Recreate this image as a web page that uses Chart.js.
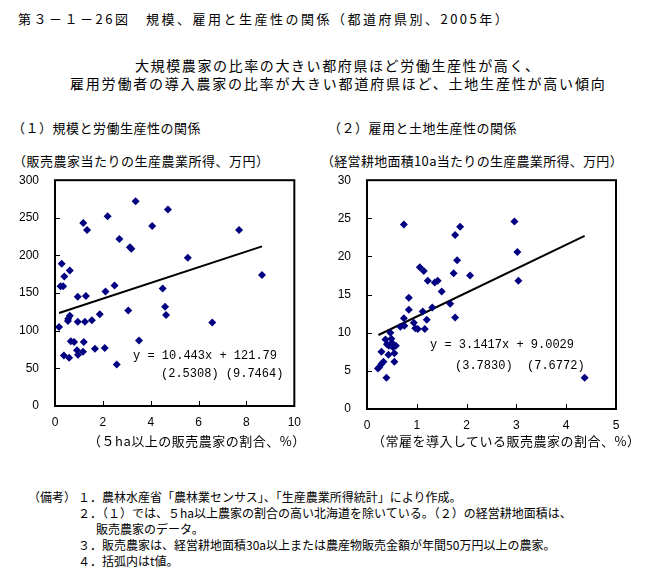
<!DOCTYPE html>
<html lang="ja">
<head>
<meta charset="utf-8">
<script src="https://cdn.jsdelivr.net/npm/chart.js@4"></script>
<style>
  body { margin: 0; background: #fff; }
  #page { position: relative; width: 659px; height: 573px; overflow: hidden; font-family: "Noto Sans CJK JP", sans-serif; color: #000; }
  .t { position: absolute; white-space: nowrap; line-height: 16px; }
  .eq { position: absolute; white-space: pre; line-height: 16px; font-family: "Liberation Mono", monospace; font-size: 12px; }
  canvas { position: absolute; }
</style>
</head>
<body>
<div id="page">
  <div class="t" style="left:18px;top:11px;font-size:13px;letter-spacing:2.5px;">第３－１－26図　規模、雇用と生産性の関係（都道府県別、2005年）</div>
  <div class="t" style="left:135px;top:57px;font-size:14px;letter-spacing:1.6px;">大規模農家の比率の大きい都府県ほど労働生産性が高く、</div>
  <div class="t" style="left:70px;top:75px;font-size:14px;letter-spacing:1.8px;">雇用労働者の導入農家の比率が大きい都道府県ほど、土地生産性が高い傾向</div>

  <div class="t" style="left:12px;top:120px;font-size:13px;letter-spacing:0.5px;">（１）規模と労働生産性の関係</div>
  <div class="t" style="left:328px;top:120px;font-size:13px;letter-spacing:0.5px;">（２）雇用と土地生産性の関係</div>
  <div class="t" style="left:13px;top:153px;font-size:13px;letter-spacing:0.5px;">（販売農家当たりの生産農業所得、万円）</div>
  <div class="t" style="left:321px;top:153px;font-size:13px;letter-spacing:0.3px;">（経営耕地面積10a当たりの生産農業所得、万円）</div>

  <canvas id="chart-left" width="310" height="278" style="left:0;top:157px;"></canvas>
  <canvas id="chart-right" width="320" height="278" style="left:320px;top:157px;"></canvas>

  <div class="eq" style="left:133px;top:348px;">y = 10.443x + 121.79</div>
  <div class="eq" style="left:161px;top:366px;">(2.5308) (9.7464)</div>
  <div class="eq" style="left:430px;top:337px;">y = 3.1417x + 9.0029</div>
  <div class="eq" style="left:455px;top:358px;">(3.7830)  (7.6772)</div>

  <div class="t" style="left:88px;top:433px;font-size:13px;letter-spacing:0.5px;">（５ha以上の販売農家の割合、%）</div>
  <div class="t" style="left:372px;top:433px;font-size:13px;letter-spacing:0.5px;">（常雇を導入している販売農家の割合、%）</div>

  <div class="t" style="left:28px;top:489px;font-size:12px;">（備考）</div>
  <div class="t" style="left:78px;top:489px;font-size:12px;">１．農林水産省「農林業センサス」、「生産農業所得統計」により作成。</div>
  <div class="t" style="left:78px;top:505px;font-size:12px;">２．（１）では、５ha以上農家の割合の高い北海道を除いている。（２）の経営耕地面積は、</div>
  <div class="t" style="left:96px;top:521px;font-size:12px;">販売農家のデータ。</div>
  <div class="t" style="left:78px;top:537px;font-size:12px;">３．販売農家は、経営耕地面積30a以上または農産物販売金額が年間50万円以上の農家。</div>
  <div class="t" style="left:78px;top:553px;font-size:12px;">４．括弧内はt値。</div>
</div>

<script>
// (1) share of farms >= 5ha (%) vs income per farm (10k yen)
const scaleShare = [3.37, 4.72, 2.20, 1.18, 1.34, 4.06, 7.69, 2.69, 3.13, 3.19, 5.55, 0.28, 0.62, 0.39, 8.65, 0.23,
  0.34, 2.49, 4.50, 2.11, 0.95, 1.29, 3.06, 4.60, 4.64, 1.87, 0.62, 0.55, 0.54, 1.54, 0.95, 1.25, 0.17, 6.57,
  0.66, 0.80, 1.20, 3.51, 1.67, 2.08, 0.92, 1.17, 0.96, 0.37, 0.59, 2.58];
const laborIncome = [272, 261, 252, 243, 234, 239, 234, 222, 211, 209, 197, 189, 180, 172, 174, 159,
  159, 160, 156, 152, 145, 146, 127, 132, 121, 122, 120, 116, 113, 114, 112, 112, 105, 111,
  86, 85, 85, 87, 76, 77, 74, 72, 68, 67, 64, 55];
const trendLeftX = [0.17, 8.65];
const trendLeftY = [123.6, 212.1];
const leftXTicks = [0, 2, 4, 6, 8, 10];
const leftYTicks = [0, 50, 100, 150, 200, 250, 300];

// (2) share of farms with regular employees (%) vs income per 10a (10k yen)
const hireShare = [0.74, 2.96, 1.87, 1.77, 3.02, 1.81, 1.06, 1.14, 1.74, 2.07, 1.22, 1.36, 1.42, 3.04, 1.50, 0.84,
  1.67, 1.31, 0.84, 1.12, 0.74, 1.77, 1.20, 0.94, 0.67, 0.75, 0.97, 1.02, 1.16, 0.47, 0.37, 0.49,
  0.40, 0.44, 0.58, 0.52, 0.29, 0.43, 0.55, 0.55, 0.33, 0.29, 0.25, 0.22, 0.39, 4.37, 0.50];
const landIncome = [24.2, 24.6, 23.9, 22.8, 20.6, 19.5, 18.6, 18.1, 17.8, 17.5, 16.8, 16.6, 16.8, 16.8, 15.4, 14.6,
  13.8, 13.3, 13.0, 12.8, 11.9, 12.0, 11.7, 11.3, 10.8, 10.9, 10.6, 10.5, 10.5, 10.0, 9.1, 9.2,
  8.5, 8.3, 8.3, 8.1, 7.5, 7.1, 7.3, 6.2, 6.2, 5.9, 5.5, 5.3, 4.1, 4.1, 8.7];
const trendRightX = [0.23, 4.37];
const trendRightY = [9.7, 22.7];
const rightXTicks = [0, 1, 2, 3, 4, 5];
const rightYTicks = [0, 5, 10, 15, 20, 25, 30];

const MARKER = '#000080';
const TICK_FONT = { family: 'Liberation Sans', size: 12 };

// box around the plot area plus short inside tick marks
const frameTicks = {
  id: 'frameTicks',
  afterDraw(chart) {
    const { ctx, chartArea: a, scales } = chart;
    ctx.save();
    ctx.strokeStyle = '#000';
    ctx.lineWidth = 1;
    ctx.beginPath();
    scales.x.ticks.forEach(t => {
      const px = Math.round(scales.x.getPixelForValue(t.value)) + 0.5;
      ctx.moveTo(px, a.bottom);
      ctx.lineTo(px, a.bottom - 5);
    });
    scales.y.ticks.forEach(t => {
      const py = Math.round(scales.y.getPixelForValue(t.value)) + 0.5;
      ctx.moveTo(a.left, py);
      ctx.lineTo(a.left + 5, py);
    });
    ctx.stroke();
    ctx.lineWidth = 2;
    ctx.strokeRect(a.left, a.top, a.right - a.left, a.bottom - a.top);
    ctx.restore();
  }
};

function toPoints(xs, ys) {
  return xs.map((x, i) => ({ x, y: ys[i] }));
}

function makeChart(id, opts) {
  return new Chart(document.getElementById(id), {
    type: 'scatter',
    data: {
      datasets: [
        {
          data: toPoints(opts.x, opts.y),
          pointStyle: 'rectRot',
          pointRadius: 4,
          pointBackgroundColor: MARKER,
          pointBorderColor: MARKER,
          pointBorderWidth: 0
        },
        {
          type: 'line',
          data: toPoints(opts.trendX, opts.trendY),
          borderColor: '#000',
          borderWidth: 2,
          pointRadius: 0,
          fill: false
        }
      ]
    },
    options: {
      responsive: false,
      animation: false,
      layout: { padding: { left: 0, right: opts.padRight, top: 9, bottom: 0 } },
      plugins: { legend: { display: false }, tooltip: { enabled: false } },
      scales: {
        x: {
          type: 'linear',
          min: opts.xTicks[0],
          max: opts.xTicks[opts.xTicks.length - 1],
          afterBuildTicks: s => { s.ticks = opts.xTicks.map(v => ({ value: v })); },
          afterFit: s => { s.height = opts.xAxisHeight; },
          grid: { display: false, drawTicks: false },
          border: { display: false },
          ticks: { color: '#000', font: TICK_FONT, padding: 9, maxRotation: 0 }
        },
        y: {
          type: 'linear',
          min: opts.yTicks[0],
          max: opts.yTicks[opts.yTicks.length - 1],
          afterBuildTicks: s => { s.ticks = opts.yTicks.map(v => ({ value: v })); },
          afterFit: s => { s.width = opts.yAxisWidth; },
          grid: { display: false, drawTicks: false },
          border: { display: false },
          ticks: { color: '#000', font: TICK_FONT, padding: 16 }
        }
      }
    },
    plugins: [frameTicks]
  });
}

makeChart('chart-left', {
  x: scaleShare, y: laborIncome, trendX: trendLeftX, trendY: trendLeftY,
  xTicks: leftXTicks, yTicks: leftYTicks,
  yAxisWidth: 55, padRight: 13, xAxisHeight: 29
});

makeChart('chart-right', {
  x: hireShare, y: landIncome, trendX: trendRightX, trendY: trendRightY,
  xTicks: rightXTicks, yTicks: rightYTicks,
  yAxisWidth: 47, padRight: 24, xAxisHeight: 26
});
</script>
</body>
</html>
